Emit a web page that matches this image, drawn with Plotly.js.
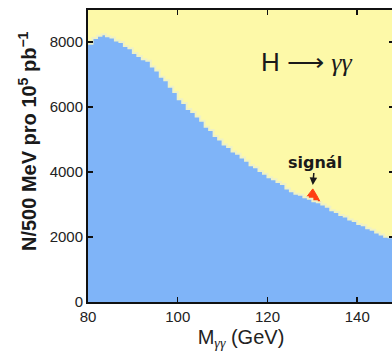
<!DOCTYPE html>
<html>
<head>
<meta charset="utf-8">
<script src="https://cdn.plot.ly/plotly-3.0.1.min.js"></script>
<style>
  html, body { margin: 0; padding: 0; background: #ffffff; overflow: hidden; }
  #chart { width: 394px; height: 351px; }
</style>
</head>
<body>
<div id="chart"></div>
<script>
// Diphoton invariant mass spectrum, counts per 500 MeV bin (1 GeV steps listed)
const massGeV = [
  80, 81, 82, 83, 84, 85, 86, 87, 88, 89,
  90, 91, 92, 93, 94, 95, 96, 97, 98, 99,
  100, 101, 102, 103, 104, 105, 106, 107, 108, 109,
  110, 111, 112, 113, 114, 115, 116, 117, 118, 119,
  120, 121, 122, 123, 124, 125, 126, 127, 128, 129,
  130, 131, 132, 133, 134, 135, 136, 137, 138, 139,
  140, 141, 142, 143, 144, 145, 146, 147, 148
];
const background = [
  7950, 8120, 8190, 8240, 8180, 8140, 8050, 8000, 7880, 7810,
  7660, 7570, 7470, 7420, 7250, 7120, 6930, 6820, 6620, 6460,
  6240, 6120, 5940, 5850, 5710, 5580, 5390, 5290, 5110, 5000,
  4850, 4770, 4630, 4560, 4450, 4350, 4210, 4150, 4030, 3950,
  3840, 3780, 3690, 3630, 3490, 3410, 3330, 3300, 3220, 3180,
  3100, 3070, 3000, 2930, 2820, 2770, 2680, 2630, 2540, 2490,
  2400, 2360, 2270, 2220, 2140, 2080, 2010, 1990, 1950
];

// Higgs signal on top of the background near 130 GeV
const signalMass = [128.6, 129.4, 130.1, 130.9, 131.9];
const signalTotal = [3210, 3360, 3480, 3300, 3040];

const xTicks = [80, 100, 120, 140];
const yTicks = [0, 2000, 4000, 6000, 8000];

const traces = [
  {
    x: signalMass, y: signalTotal,
    type: 'scatter', mode: 'lines',
    fill: 'tozeroy', fillcolor: '#ff3f12',
    line: { color: '#ff3f12', width: 1 },
    hoverinfo: 'skip'
  },
  {
    x: massGeV, y: background,
    type: 'scatter', mode: 'lines',
    line: { shape: 'hv', color: '#eef1c6', width: 2 },
    fill: 'tozeroy', fillcolor: '#7fb4f8',
    hoverinfo: 'skip'
  }
];

const axisStyle = {
  showgrid: false, zeroline: false,
  showline: true, linecolor: '#111', linewidth: 2,
  mirror: 'ticks',
  ticks: 'inside', ticklen: 5, tickwidth: 1.5, tickcolor: '#111',
  tickfont: { family: 'Liberation Sans, Arial, sans-serif', size: 15, color: '#222' }
};

const layout = {
  width: 394, height: 351,
  margin: { l: 88, r: 0, t: 10, b: 49 },
  paper_bgcolor: '#ffffff',
  plot_bgcolor: '#fdf9a8',
  showlegend: false,
  xaxis: Object.assign({}, axisStyle, {
    range: [80, 148.2],
    tickvals: xTicks,
    title: {
      text: 'M<sub><span style="font-family:Liberation Serif;font-style:italic">γγ</span></sub> (GeV)',
      font: { family: 'Liberation Sans, Arial, sans-serif', size: 20, color: '#222' },
      standoff: 6
    }
  }),
  yaxis: Object.assign({}, axisStyle, {
    range: [0, 8985],
    tickvals: yTicks
  }),
  annotations: [
    {
      text: '<b>N/500 MeV pro 10<sup>5</sup> pb<sup>−1</sup></b>',
      textangle: -90,
      xref: 'paper', yref: 'paper',
      x: -61 / 306, y: (302 - 141) / 292,
      xanchor: 'center', yanchor: 'middle',
      showarrow: false,
      font: { family: 'Liberation Sans, Arial, sans-serif', size: 20, color: '#1a1a1a' }
    },
    {
      text: 'H ⟶ <span style="font-family:Liberation Serif;font-style:italic">γγ</span>',
      xref: 'x', yref: 'y',
      x: 128.6, y: 7375,
      showarrow: false,
      font: { family: 'Liberation Sans, Arial, sans-serif', size: 26, color: '#1a1a1a' }
    },
    {
      // label with a short arrow pointing down at the signal peak
      text: '<b>signál</b>',
      xref: 'x', yref: 'y',
      x: 130.1, y: 3600,
      showarrow: true, arrowhead: 2, arrowsize: 1, arrowwidth: 1.5,
      arrowcolor: '#1a1a1a', standoff: 0, startstandoff: 0,
      ax: 2, ay: -23,
      font: { family: 'DejaVu Sans, sans-serif', size: 16, color: '#1a1a1a' }
    }
  ]
};

Plotly.newPlot('chart', traces, layout, { staticPlot: true, displayModeBar: false });
</script>
</body>
</html>
